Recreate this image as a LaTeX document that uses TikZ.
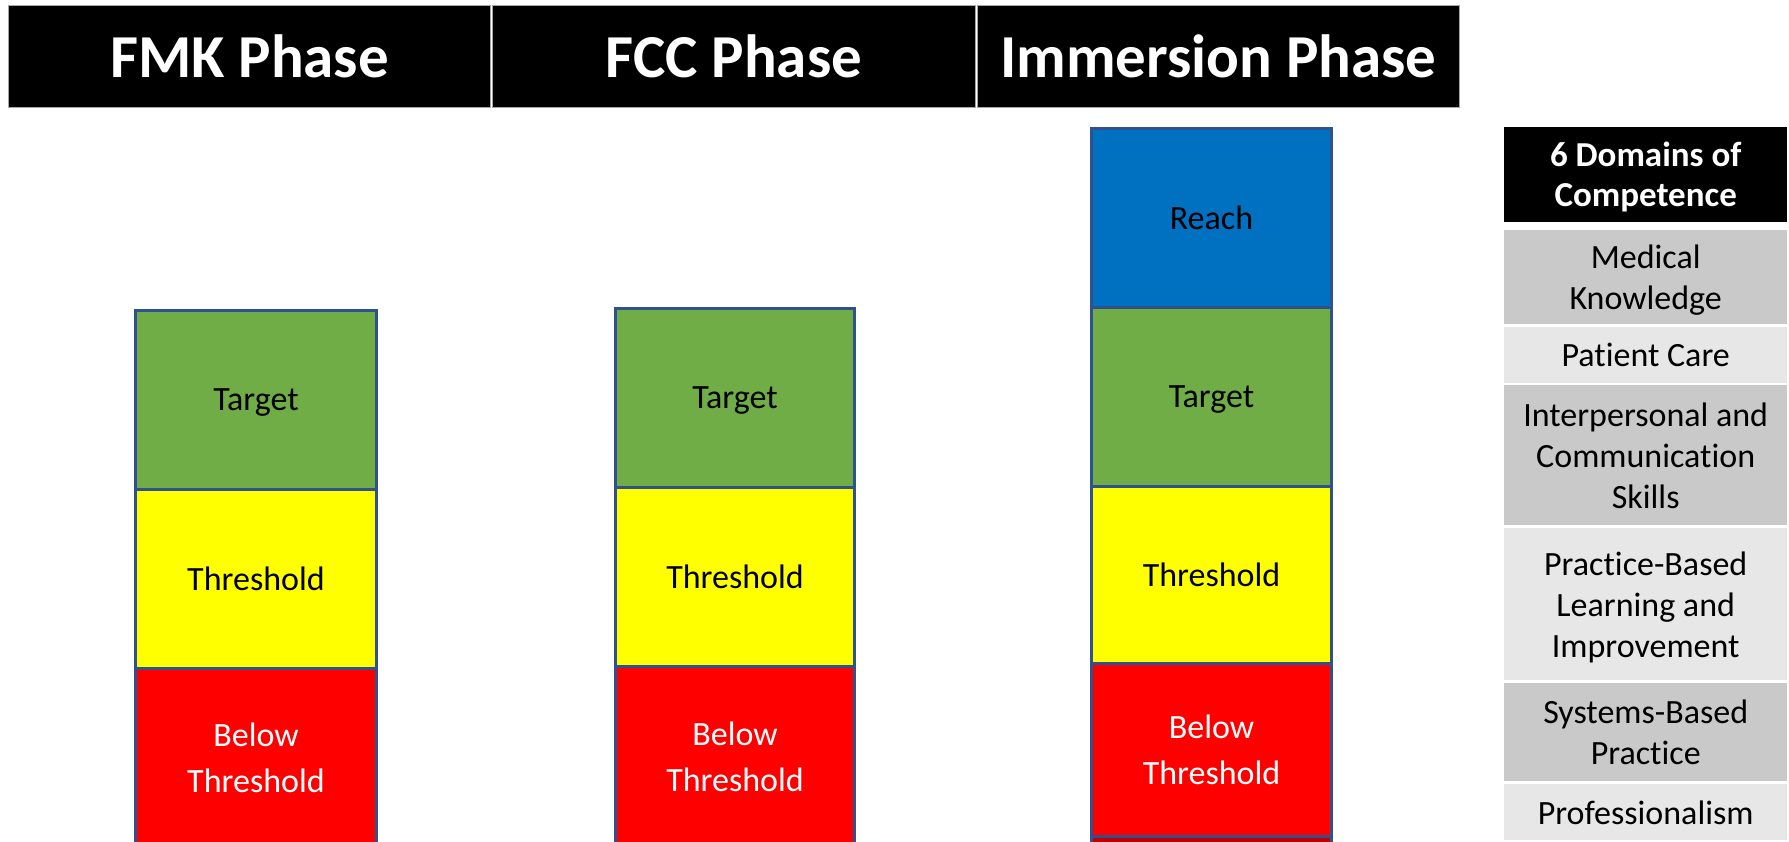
\documentclass[tikz,border=0pt]{standalone}
\usepackage{fontspec}
\setmainfont[Ligatures=NoCommon]{Carlito}
\definecolor{segborder}{HTML}{2F528F}
\definecolor{cgreen}{HTML}{70AD47}
\definecolor{cyellow}{HTML}{FFFF00}
\definecolor{cred}{HTML}{FF0000}
\definecolor{cblue}{HTML}{0070C0}
\definecolor{cdarkred}{HTML}{C00000}
\definecolor{rowdark}{HTML}{C9C9C9}
\definecolor{rowlight}{HTML}{E7E7E7}
\definecolor{hdrline}{HTML}{A6A6A6}
\begin{document}
\begin{tikzpicture}[x=1pt,y=-1pt,
  phasehdr/.style={fill=black, draw=hdrline, line width=1pt, text=white, anchor=north west, inner sep=0pt,
    font=\fontsize{61}{73}\selectfont\bfseries},
  seg/.style={draw=segborder, line width=3pt, anchor=north west, inner sep=0pt, align=center,
    font=\fontsize{34}{46}\selectfont},
  lowtext/.style={text depth=-2pt},
  rowcell/.style={anchor=north west, inner sep=0pt, align=center, minimum width=283pt, text depth=0pt,
    font=\fontsize{34}{41}\selectfont},
]
\useasboundingbox (0,0) rectangle (1789,842);
\fill[white] (0,0) rectangle (1789,842);

% phase headers
\node[phasehdr, minimum width=482pt, minimum height=102pt] (hfmk) at (8,5) {FMK Phase};
\node[phasehdr, minimum width=483pt, minimum height=102pt] (hfcc) at (492,5) {FCC Phase};
\node[phasehdr, minimum width=482pt, minimum height=102pt] (himm) at (977,5) {Immersion Phase};

% FMK bar
\node[seg, lowtext, fill=cgreen, minimum width=241pt, minimum height=179pt] (fmkT) at (134,309) {Target};
\node[seg, fill=cyellow, minimum width=241pt, minimum height=179pt] (fmkTh) at (134,488) {Threshold};
\node[seg, fill=cred, text=white, minimum width=241pt, minimum height=178pt] (fmkB) at (134,667) {Below\\Threshold};

% FCC bar
\node[seg, lowtext, fill=cgreen, minimum width=239pt, minimum height=179pt] (fccT) at (614,307) {Target};
\node[seg, fill=cyellow, minimum width=239pt, minimum height=179pt] (fccTh) at (614,486) {Threshold};
\node[seg, fill=cred, text=white, minimum width=239pt, minimum height=180pt] (fccB) at (614,665) {Below\\Threshold};

% Immersion bar
\node[seg, fill=cdarkred, minimum width=240pt, minimum height=20pt] (immX) at (1090,833) {};
\node[seg, fill=cblue, minimum width=240pt, minimum height=179pt] (immR) at (1090,127) {Reach};
\node[seg, lowtext, fill=cgreen, minimum width=240pt, minimum height=179pt] (immT) at (1090,306) {Target};
\node[seg, fill=cyellow, minimum width=240pt, minimum height=177pt] (immTh) at (1090,485) {Threshold};
\node[seg, fill=cred, text=white, minimum width=240pt, minimum height=173pt] (immB) at (1090,662) {Below\\Threshold};

% domains table
\node[rowcell, fill=black, text=white, minimum height=95pt, text depth=-5pt,
      font=\fontsize{35}{40}\selectfont\bfseries] (dh) at (1504,127) {6 Domains of\\Competence};
\node[rowcell, fill=rowdark, minimum height=94pt] (d1) at (1504,230) {Medical\\Knowledge};
\node[rowcell, fill=rowlight, minimum height=56pt] (d2) at (1504,327) {Patient Care};
\node[rowcell, fill=rowdark, minimum height=140pt] (d3) at (1504,385) {Interpersonal and\\Communication\\Skills};
\node[rowcell, fill=rowlight, minimum height=152pt, text depth=-3pt] (d4) at (1504,528) {Practice-Based\\Learning and\\Improvement};
\node[rowcell, fill=rowdark, minimum height=98pt] (d5) at (1504,683) {Systems-Based\\Practice};
\node[rowcell, fill=rowlight, minimum height=56pt] (d6) at (1504,784) {Professionalism};
\end{tikzpicture}
\end{document}
